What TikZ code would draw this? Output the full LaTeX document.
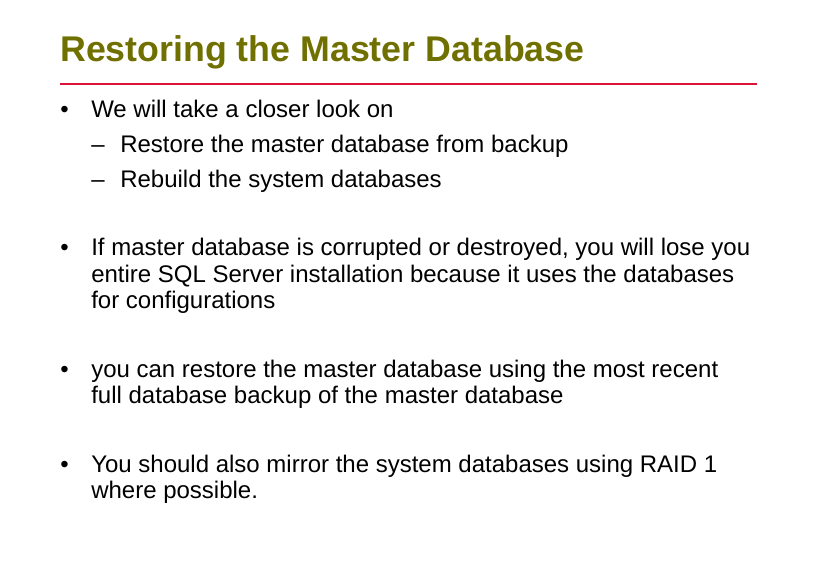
\documentclass[tikz,border=0pt]{standalone}
\usepackage{fontspec}
\setmainfont{Liberation Sans}
\definecolor{titleolive}{RGB}{112,112,0}
\definecolor{ruled}{RGB}{220,20,60}
\begin{document}
\begin{tikzpicture}[x=0.75pt,y=-0.75pt]
\tikzstyle{txt}=[anchor=base west,inner sep=0pt,font=\fontsize{18}{22}\selectfont]
\useasboundingbox (0,0) rectangle (818,578);

\node at (60,61) [anchor=base west,inner sep=0pt,font=\fontsize{26.8}{32}\selectfont\bfseries,text=titleolive] (title) {Restoring the Master Database};
\coordinate (ruleL) at (60,84);
\coordinate (ruleR) at (757,84);
\draw [ruled,line width=1pt] (ruleL) -- (ruleR);

% first bullet
\node at (60,117) [txt] (b1) {•};
\node at (91,117) [txt] (t1) {We will take a closer look on};
\node at (91,152) [txt] (d1) {–};
\node at (120,152) [txt] (s1) {Restore the master database from backup};
\node at (91,187) [txt] (d2) {–};
\node at (120,187) [txt] (s2) {Rebuild the system databases};

% second bullet
\node at (60,255) [txt] (b2) {•};
\node at (91,255) [txt] (t2a) {If master database is corrupted or destroyed, you will lose you};
\node at (91,282) [txt] (t2b) {entire SQL Server installation because it uses the databases};
\node at (91,308) [txt] (t2c) {for configurations};

% third bullet
\node at (60,377) [txt] (b3) {•};
\node at (91,377) [txt] (t3a) {you can restore the master database using the most recent};
\node at (91,403) [txt] (t3b) {full database backup of the master database};

% fourth bullet
\node at (60,472) [txt] (b4) {•};
\node at (91,472) [txt] (t4a) {You should also mirror the system databases using RAID 1};
\node at (91,498) [txt] (t4b) {where possible.};

\end{tikzpicture}
\end{document}
